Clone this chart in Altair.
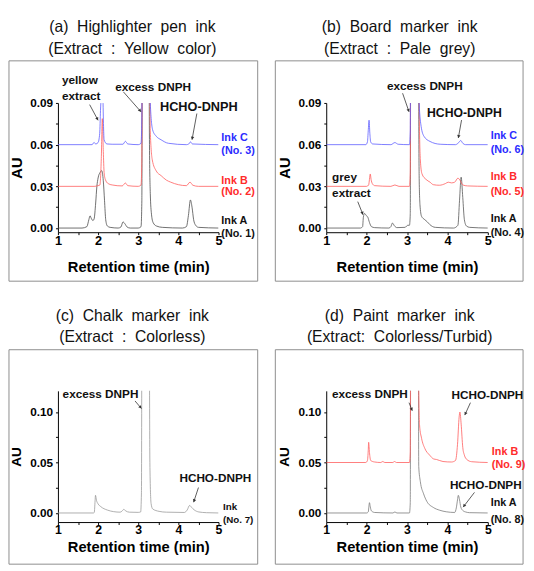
import math
import altair as alt
import pandas as pd

FONT = "Liberation Sans, Arial, Helvetica, sans-serif"

BLUE_L, RED_L = "#5c5cff", "#ff5c5c"
BLUE_T, RED_T = "#2b2bff", "#ff2b2b"

# ---------------- data (retention time in min, AU relative to each trace's baseline) ----------------
# (a) Highlighter pen ink
a_A_t = [1.00, 1.60, 1.72, 1.77, 1.80, 1.83, 1.87, 1.90, 1.94, 1.97, 2.00, 2.05, 2.09, 2.13, 2.16, 2.19, 2.23, 2.30,
         2.50, 2.57, 2.62, 2.67, 2.72, 2.80, 3.00, 3.07, 3.09, 3.11, 3.25, 3.28, 3.30, 3.33, 3.37, 3.45, 3.60,
         4.10, 4.20, 4.25, 4.30, 4.34, 4.38, 4.43, 4.50, 5.00]
a_A_au = [0.0, 0.0, 0.001, 0.006, 0.0088, 0.0070, 0.0054, 0.0065, 0.018, 0.030, 0.036, 0.040, 0.0413, 0.034, 0.020,
          0.006, 0.0015, 0.0005, 0.0, 0.0008, 0.0044, 0.0030, 0.0008, 0.0, 0.0, 0.001, 0.02, 0.3, 0.3, 0.06, 0.025,
          0.010, 0.004, 0.0015, 0.0005, 0.0, 0.001, 0.009, 0.0202, 0.015, 0.006, 0.002, 0.0005, 0.0]
a_B_t = [1.00, 1.90, 2.00, 2.045, 2.08, 2.105, 2.13, 2.15, 2.18, 2.25, 2.35, 2.60, 2.68, 2.74, 3.00, 3.07, 3.09, 3.11,
         3.26, 3.30, 3.35, 3.45, 3.57, 3.70, 3.81, 4.00, 4.20, 4.29, 4.36, 4.50, 5.00]
a_B_au = [0.0, 0.0, 0.0005, 0.001, 0.02, 0.0487, 0.025, 0.010, 0.005, 0.002, 0.001, 0.0003, 0.0024, 0.0005, 0.0,
          0.001, 0.02, 0.3, 0.3, 0.04, 0.019, 0.011, 0.0077, 0.0045, 0.003, 0.0012, 0.0005, 0.003, 0.0008, 0.0, 0.0]
a_C_t = [1.00, 1.85, 1.90, 1.94, 2.00, 2.04, 2.06, 2.075, 2.095, 2.12, 2.136, 2.15, 2.22, 2.35, 2.62, 2.68, 2.74,
         3.00, 3.07, 3.09, 3.11, 3.27, 3.30, 3.36, 3.45, 3.57, 3.75, 4.20, 4.26, 4.30, 4.35, 5.00]
a_C_au = [0.0, 0.0, 0.0016, 0.0005, 0.0015, 0.008, 0.0246, 0.035, 0.06, 0.035, 0.013, 0.0035, 0.0005, 0.0003,
          0.0003, 0.0024, 0.0005, 0.0, 0.001, 0.02, 0.3, 0.3, 0.03, 0.0105, 0.006, 0.0035, 0.001, 0.0, 0.0005,
          0.002, 0.0005, 0.0]

# (b) Board marker ink
b_A_t = [1.00, 1.85, 1.90, 1.92, 1.95, 1.99, 2.03, 2.07, 2.12, 2.20, 2.55, 2.60, 2.64, 2.69, 2.75, 2.95, 3.02, 3.06,
         3.08, 3.10, 3.28, 3.29, 3.30, 3.32, 3.36, 3.44, 3.50, 3.56, 3.70, 4.15, 4.26, 4.30, 4.34, 4.38, 4.42, 4.47,
         4.55, 5.00]
b_A_au = [0.0, 0.0, 0.001, 0.008, 0.0105, 0.009, 0.0078, 0.004, 0.001, 0.0003, 0.0, 0.001, 0.0036, 0.0015, 0.0003,
          0.0005, 0.002, 0.002, 0.01, 0.3, 0.3, 0.09, 0.038, 0.017, 0.0084, 0.006, 0.0045, 0.0026, 0.0005, 0.0,
          0.002, 0.020, 0.0366, 0.022, 0.006, 0.0015, 0.0005, 0.0]
b_B_t = [1.00, 2.00, 2.05, 2.07, 2.09, 2.11, 2.14, 2.20, 2.60, 2.70, 2.80, 3.06, 3.08, 3.10, 3.28, 3.30, 3.33, 3.37,
         3.47, 3.57, 3.65, 3.80, 3.95, 4.02, 4.10, 4.18, 4.26, 4.32, 4.38, 4.50, 5.00]
b_B_au = [0.0, 0.0, 0.001, 0.005, 0.0089, 0.005, 0.002, 0.0005, 0.0, 0.001, 0.0, 0.0, 0.01, 0.3, 0.3, 0.06, 0.019,
          0.009, 0.005, 0.003, 0.0012, 0.0008, 0.002, 0.003, 0.0025, 0.003, 0.0059, 0.004, 0.001, 0.0003, 0.0]
b_C_t = [1.00, 1.98, 2.02, 2.04, 2.06, 2.08, 2.10, 2.15, 2.60, 2.70, 2.78, 3.06, 3.08, 3.10, 3.28, 3.30, 3.35, 3.42,
         3.57, 3.82, 4.20, 4.28, 4.33, 4.38, 4.45, 5.00]
b_C_au = [0.0, 0.0, 0.002, 0.010, 0.0176, 0.008, 0.002, 0.0005, 0.0, 0.0015, 0.0003, 0.0, 0.01, 0.3, 0.3, 0.03,
          0.013, 0.006, 0.0023, 0.0003, 0.0, 0.0015, 0.003, 0.001, 0.0, 0.0]

# (c) Chalk marker ink
c_A_t = [1.00, 1.88, 1.905, 1.925, 1.935, 1.96, 2.00, 2.07, 2.23, 2.39, 2.55, 2.60, 2.64, 2.69, 2.78, 3.00, 3.06,
         3.08, 3.10, 3.26, 3.29, 3.32, 3.36, 3.52, 3.70, 4.15, 4.22, 4.28, 4.33, 4.39, 4.51, 4.70, 5.00]
c_A_au = [0.0, 0.0, 0.0005, 0.012, 0.0175, 0.0125, 0.009, 0.0062, 0.0029, 0.0013, 0.0008, 0.002, 0.0036, 0.002,
          0.0008, 0.0006, 0.001, 0.02, 0.4, 0.4, 0.05, 0.0094, 0.004, 0.0016, 0.0008, 0.0005, 0.003, 0.0075, 0.0055,
          0.0032, 0.001, 0.0003, 0.0]

# (d) Paint marker ink
d_A_t = [1.00, 2.00, 2.04, 2.06, 2.07, 2.09, 2.12, 2.20, 2.65, 2.70, 2.75, 3.06, 3.08, 3.10, 3.27, 3.29, 3.33, 3.41,
         3.49, 3.65, 3.81, 3.97, 4.18, 4.22, 4.25, 4.27, 4.30, 4.33, 4.38, 4.45, 4.55, 5.00]
d_A_au = [0.0, 0.0, 0.001, 0.008, 0.0102, 0.006, 0.002, 0.0005, 0.0, 0.001, 0.0, 0.0, 0.01, 0.4, 0.4, 0.046, 0.031,
          0.019, 0.0115, 0.0055, 0.0027, 0.0012, 0.0005, 0.005, 0.013, 0.0175, 0.013, 0.006, 0.0025, 0.001, 0.0003,
          0.0]
d_B_t = [1.00, 1.98, 2.02, 2.04, 2.05, 2.07, 2.10, 2.20, 2.35, 2.40, 2.45, 2.65, 2.69, 2.74, 3.06, 3.08, 3.10, 3.27,
         3.29, 3.31, 3.36, 3.44, 3.56, 3.66, 3.73, 3.89, 4.10, 4.20, 4.25, 4.29, 4.31, 4.34, 4.38, 4.42, 4.48, 4.60,
         5.00]
d_B_au = [0.0, 0.0, 0.002, 0.012, 0.020, 0.010, 0.002, 0.0005, 0.0, 0.001, 0.0, 0.0, 0.001, 0.0, 0.0, 0.01, 0.4,
          0.4, 0.08, 0.037, 0.024, 0.014, 0.0073, 0.0035, 0.003, 0.001, 0.0005, 0.002, 0.018, 0.045, 0.050, 0.038,
          0.015, 0.0073, 0.003, 0.0008, 0.0]

# baseline offsets of the stacked traces
offsets_a = [0.0, 0.03, 0.06]
offsets_b = [0.0, 0.03, 0.06]
offsets_d = [0.0, 0.05]

# ---------------- annotations ----------------
a_titles = ["(a) \u00a0Highlighter \u00a0pen \u00a0ink", "(Extract \u00a0: \u00a0Yellow \u00a0color)"]
b_titles = ["(b) \u00a0Board \u00a0marker \u00a0ink", "(Extract \u00a0: \u00a0Pale \u00a0grey)"]
c_titles = ["(c) \u00a0Chalk \u00a0marker \u00a0ink", "(Extract \u00a0: \u00a0Colorless)"]
d_titles = ["(d) \u00a0Paint \u00a0marker \u00a0ink", "(Extract: \u00a0Colorless/Turbid)"]

a_notes = [("yellow", 1.10, 0.1036, "left", 12), ("extract", 1.10, 0.0918, "left", 12),
           ("excess DNPH", 3.37, 0.0986, "center", 12), ("HCHO-DNPH", 4.51, 0.0843, "center", 13)]
b_notes = [("excess DNPH", 3.44, 0.0993, "center", 12), ("HCHO-DNPH", 4.42, 0.080, "center", 12.5),
           ("grey", 1.145, 0.0338, "left", 12), ("extract", 1.145, 0.0225, "left", 12)]
c_notes = [("excess DNPH", 2.06, 0.1135, "center", 12), ("HCHO-DNPH", 4.92, 0.0308, "center", 12)]
d_notes = [("excess DNPH", 2.08, 0.1135, "center", 12), ("HCHO-DNPH", 4.99, 0.1125, "center", 12),
           ("HCHO-DNPH", 4.95, 0.0237, "center", 12)]

a_inks = [("Ink C", 5.07, 0.0625, BLUE_T), ("(No. 3)", 5.07, 0.0535, BLUE_T), ("Ink B", 5.07, 0.0319, RED_T),
          ("(No. 2)", 5.07, 0.024, RED_T), ("Ink A", 5.07, 0.0026, "#111111"), ("(No. 1)", 5.07, -0.0063, "#111111")]
b_inks = [("Ink C", 5.07, 0.064, BLUE_T), ("(No. 6)", 5.07, 0.0543, BLUE_T), ("Ink B", 5.07, 0.0343, RED_T),
          ("(No. 5)", 5.07, 0.024, RED_T), ("Ink A", 5.07, 0.0042, "#111111"), ("(No. 4)", 5.07, -0.0056, "#111111")]
c_inks = [("Ink", 5.11, 0.0026, "#111111"), ("(No. 7)", 5.11, -0.010, "#111111")]
d_inks = [("Ink B", 5.10, 0.0576, RED_T), ("(No. 9)", 5.10, 0.0446, RED_T), ("Ink A", 5.07, 0.0065, "#111111"),
          ("(No. 8)", 5.07, -0.0103, "#111111")]

a_arrows = [(1.79, 0.0888, 2.00, 0.0775), (2.63, 0.098, 3.07, 0.0836), (4.46, 0.0824, 4.34, 0.0636)]
b_arrows = [(2.89, 0.097, 3.05, 0.0836), (4.35, 0.0777, 4.27, 0.0648), (1.78, 0.019, 1.91, 0.0096)]
c_arrows = [(2.92, 0.111, 3.08, 0.1035), (4.50, 0.0252, 4.38, 0.0107)]
d_arrows = [(3.05, 0.1093, 3.13, 0.1013), (4.57, 0.1093, 4.43, 0.097), (4.67, 0.0204, 4.39, 0.0058)]

ONE = pd.DataFrame({"k": [0]})


def make_panel(W, H, ydom, yvals, ymod, traces, titles, notes, inks, arrows, frame, row, anchor=False, title_x=76,
               ink_size=11):
    xvals = [1, 1.5, 2, 2.5, 3, 3.5, 4, 4.5, 5]
    top = row == 0

    def X(field="t"):
        return alt.X(f"{field}:Q", scale=alt.Scale(domain=[1, 5], nice=False, zero=False),
                     axis=alt.Axis(values=xvals, labelExpr="datum.value % 1 === 0 ? format(datum.value, 'd') : ''",
                                   title="Retention time (min)", titleFont=FONT, titleFontSize=15,
                                   titleFontWeight="bold", titleX=W / 2, titleY=40 if top else 30,
                                   titleAlign="center", titleBaseline="alphabetic", titleColor="black",
                                   labelFont=FONT, labelFontSize=13 if top else 12.5, labelFontWeight="bold",
                                   labelColor="black", labelBaseline="alphabetic",
                                   labelPadding=10.5 if top else 9.5, labelFlush=False, labelOverlap=False,
                                   tickSize=2.5, tickColor="black", domainColor="black", grid=False))

    def Y(field="au"):
        return alt.Y(f"{field}:Q", scale=alt.Scale(domain=ydom, nice=False, zero=False),
                     axis=alt.Axis(values=yvals,
                                   labelExpr=f"round(datum.value * 1000) % {ymod} === 0 ? format(datum.value, '.2f') : ''",
                                   title="AU", titleFont=FONT, titleFontSize=15 if top else 14,
                                   titleFontWeight="bold", titleAngle=270, titleX=-42.5, titleY=H / 2,
                                   titleAlign="center", titleBaseline="middle", titleColor="black",
                                   labelFont=FONT, labelFontSize=12, labelFontWeight="bold", labelColor="black",
                                   labelPadding=3, labelFlush=False, labelOverlap=False, tickSize=2.5,
                                   tickColor="black", domainColor="black", grid=False))

    layers = []
    fx1, fx2, fy1, fy2 = frame
    layers.append(alt.Chart(ONE).mark_rect(filled=False, stroke="#8c8c8c", strokeWidth=1).encode(
        x=alt.value(fx1), x2=alt.value(fx2), y=alt.value(fy1), y2=alt.value(fy2)))
    if anchor:
        layers.append(alt.Chart(ONE).mark_rect(opacity=0).encode(
            x=alt.value(-50), x2=alt.value(-49), y=alt.value(-91), y2=alt.value(-90)))
    for t, au, off, col in traces:
        df = pd.DataFrame({"t": t, "au": [v + off for v in au]})
        layers.append(alt.Chart(df).mark_line(clip=True, interpolate="monotone", color=col, strokeWidth=0.8).encode(
            x=X(), y=Y()))
    # titles
    for txt, yy in zip(titles, [-72 if top else -71, -50]):
        layers.append(alt.Chart(ONE).mark_text(text=txt, font=FONT, fontSize=16, align="center",
                                                 baseline="alphabetic", color="#111111").encode(
            x=alt.value(title_x), y=alt.value(yy)))
    # notes
    ndf = pd.DataFrame(notes, columns=["label", "t", "au", "align", "fs"])
    for al in ["left", "center"]:
        sub = ndf[ndf["align"] == al]
        if len(sub):
            layers.append(alt.Chart(sub).mark_text(font=FONT, fontWeight="bold", align=al, baseline="alphabetic",
                                                   color="#111111").encode(
                x=X(), y=Y(), text="label:N", size=alt.Size("fs:Q", scale=None)))
    idf = pd.DataFrame(inks, columns=["label", "t", "au", "col"])
    layers.append(alt.Chart(idf).mark_text(font=FONT, fontWeight="bold", align="left", baseline="alphabetic",
                                           fontSize=ink_size).encode(
        x=X(), y=Y(), text="label:N", color=alt.Color("col:N", scale=None)))
    # arrows
    adf = pd.DataFrame(arrows, columns=["t", "au", "t2", "au2"])
    layers.append(alt.Chart(adf).mark_rule(color="#333333", strokeWidth=0.8).encode(
        x=X(), y=Y(), x2="t2:Q", y2="au2:Q"))
    sx = W / 4.0
    sy = H / (ydom[1] - ydom[0])
    heads = []
    for t1, a1, t2, a2 in arrows:
        dx = (t2 - t1) * sx
        dy = -(a2 - a1) * sy
        L = math.hypot(dx, dy)
        ang = math.degrees(math.atan2(dx, -dy)) % 360
        heads.append({"t": t2 - dx / L * 1.5 / sx, "au": a2 + dy / L * 1.5 / sy, "ang": ang})
    hdf = pd.DataFrame(heads)
    layers.append(alt.Chart(hdf).mark_point(shape="triangle-up", filled=True, size=12, color="#333333",
                                            strokeWidth=0, opacity=1).encode(
        x=X(), y=Y(), angle=alt.Angle("ang:Q", scale=None)))
    return alt.layer(*layers).properties(width=W, height=H)


yv_ab = [0, 0.015, 0.03, 0.045, 0.06, 0.075, 0.09]
yv_cd = [0, 0.025, 0.05, 0.075, 0.1]

pa = make_panel(164, 132, [-0.003, 0.09], yv_ab, 30,
                [(a_A_t, a_A_au, offsets_a[0], "#4a4a4a"), (a_B_t, a_B_au, offsets_a[1], RED_L),
                 (a_C_t, a_C_au, offsets_a[2], BLUE_L)],
                a_titles, a_notes, a_inks, a_arrows, (-50, 204, -43, 182), 0, anchor=True, title_x=76)
pb = make_panel(165, 132, [-0.003, 0.09], yv_ab, 30,
                [(b_A_t, b_A_au, offsets_b[0], "#555555"), (b_B_t, b_B_au, offsets_b[1], RED_L),
                 (b_C_t, b_C_au, offsets_b[2], BLUE_L)],
                b_titles, b_notes, b_inks, b_arrows, (-52, 201, -43, 182), 0, title_x=75)
pc = make_panel(164, 134, [-0.009, 0.121], yv_cd, 50,
                [(c_A_t, c_A_au, 0.0, "#9a9a9a")],
                c_titles, c_notes, c_inks, c_arrows, (-50, 204, -42, 177), 1, title_x=76, ink_size=10)
pd_ = make_panel(165, 134, [-0.009, 0.121], yv_cd, 50,
                 [(d_A_t, d_A_au, offsets_d[0], "#7a7a7a"), (d_B_t, d_B_au, offsets_d[1], RED_L)],
                 d_titles, d_notes, d_inks, d_arrows, (-52, 201, -42, 177), 1, title_x=75)

chart = alt.concat(pa, pb, pc, pd_, columns=2, spacing={"row": 162, "column": 110}, bounds="flush").properties(
    padding=0).configure_view(strokeWidth=0)

chart.save("out.html", embed_options={"renderer": "svg", "actions": False})
